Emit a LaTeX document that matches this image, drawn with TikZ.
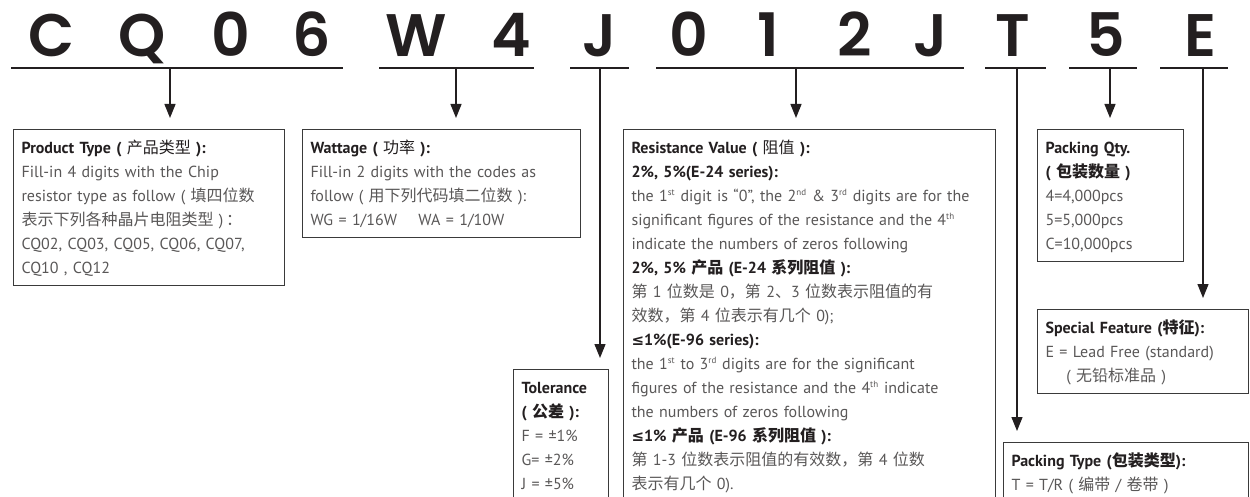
\documentclass[tikz,border=0pt]{standalone}
\usepackage{fontspec}
\setmainfont{PT Sans}
\newfontfamily\cjk{Noto Sans CJK SC}
\newfontfamily\symfont{DejaVu Sans}
\newfontfamily\codefont{Poppins}[BoldFont={Poppins SemiBold}]
\usepackage{xcolor}
\usetikzlibrary{arrows.meta, positioning, calc}

\definecolor{inkblack}{HTML}{231F20}
\definecolor{bodygray}{HTML}{595757}
\definecolor{boxgray}{HTML}{3A3A3A}

\newcommand{\hd}[1]{{\color{inkblack}\bfseries #1}}
\newcommand{\zh}[1]{{\cjk #1}}
\newcommand{\sups}[1]{\textsuperscript{\fontsize{9}{9}\selectfont #1}}
\newcommand{\leqsign}{{\symfont\fontsize{15}{24}\selectfont ≤}}
\newcommand{\boxtop}{\rule{0pt}{24pt}}
\newcommand{\boxend}{\rule[-12pt]{0pt}{12pt}}

\tikzset{
  codeletter/.style={font=\codefont\bfseries\fontsize{60}{60}\selectfont, text=inkblack, anchor=base, inner sep=0pt},
  codeline/.style={draw=inkblack, line width=1.4pt},
  pointer/.style={draw=inkblack, line width=1.3pt, -{Triangle[length=14pt,width=11pt]}, shorten >=11pt},
  infobox/.style={draw=boxgray, line width=1.1pt, anchor=north west, inner xsep=8pt, inner ysep=0pt,
    align=left, text=bodygray, font=\fontsize{16}{24}\selectfont}
}

\begin{document}
\begin{tikzpicture}[x=1pt, y=-1pt]
          \useasboundingbox (0,0) rectangle (1250,497);

          % part number
          \node[codeletter] (lc) at (52,57) {C};
          \node[codeletter] (lq) at (142,57) {Q};
          \node[codeletter] (lza) at (231,57) {0};
          \node[codeletter] (lsix) at (312,57) {6};
          \node[codeletter] (lw) at (416,57) {W};
          \node[codeletter] (lfour) at (511,57) {4};
          \node[codeletter] (lja) at (600,57) {J};
          \node[codeletter] (lzb) at (689,57) {0};
          \node[codeletter] (lone) at (768,57) {1};
          \node[codeletter] (ltwo) at (855,57) {2};
          \node[codeletter] (ljb) at (931,57) {J};
          \node[codeletter] (lt) at (1013,57) {T};
          \node[codeletter] (lfive) at (1106,57) {5};
          \node[codeletter] (le) at (1200,57) {E};

          % underlines
          \coordinate (ua) at (11,68);   \coordinate (ub) at (343,68);
          \coordinate (uc) at (379,68);  \coordinate (ud) at (534,68);
          \coordinate (ue) at (570,68);  \coordinate (uf) at (629,68);
          \coordinate (ug) at (656,68);  \coordinate (uh) at (964,68);
          \coordinate (ui) at (985,68);  \coordinate (uj) at (1046,68);
          \coordinate (uk) at (1069,68); \coordinate (ul) at (1137,68);
          \coordinate (um) at (1160,68); \coordinate (un) at (1228,68);

          \draw[codeline] (ua) -- (ub);
          \draw[codeline] (uc) -- (ud);
          \draw[codeline] (ue) -- (uf);
          \draw[codeline] (ug) -- (uh);
          \draw[codeline] (ui) -- (uj);
          \draw[codeline] (uk) -- (ul);
          \draw[codeline] (um) -- (un);

          \coordinate (ptype) at (170,68);
          \coordinate (pwatt) at (456,68);
          \coordinate (ptol) at (600,68);
          \coordinate (pres) at (796,68);
          \coordinate (ppack) at (1017,68);
          \coordinate (pqty) at (1110,68);
          \coordinate (pspec) at (1203,68);

          % boxes
          \node[infobox, text width=255pt] (prod) at (13,129) {\boxtop\hd{Product Type (} {\color{inkblack}\zh{产品类型}} \hd{):}\\
            Fill-in 4 digits with the Chip\\
            resistor type as follow ( \zh{填四位数}\\
            \zh{表示下列各种晶片电阻类型} )\,\zh{：}\\
            CQ02, CQ03, CQ05, CQ06, CQ07,\\
            CQ10 , CQ12\boxend};

          \node[infobox, text width=262pt] (watt) at (302,129) {\boxtop\hd{Wattage (} {\color{inkblack}\zh{功率}} \hd{):}\\
            Fill-in 2 digits with the codes as\\
            follow ( \zh{用下列代码填二位数} ):\\
            WG = 1/16W \quad WA = 1/10W\boxend};

          \node[infobox, text width=79pt] (tol) at (513,369) {\boxtop\hd{Tolerance}\\
            \hd{( \zh{公差} ):}\\
            F = ±1\%\\
            G= ±2\%\\
            J = ±5\%\boxend};

          \node[infobox, text width=356pt] (res) at (623,129) {\boxtop\hd{Resistance Value (} {\color{inkblack}\zh{阻值}} \hd{):}\\
            \hd{2\%, 5\%(E-24 series):}\\
            the 1\sups{st} digit is “0”, the 2\sups{nd} \& 3\sups{rd} digits are for the\\
            significant figures of the resistance and the 4\sups{th}\\
            indicate the numbers of zeros following\\
            \hd{2\%, 5\% \zh{产品} (E-24 \zh{系列阻值} ):}\\
            \zh{第} 1 \zh{位数是} 0\zh{，第} 2\zh{、}3 \zh{位数表示阻值的有}\\
            \zh{效数，第} 4 \zh{位表示有几个} 0);\\
            \hd{\leqsign1\%(E-96 series):}\\
            the 1\sups{st} to 3\sups{rd} digits are for the significant\\
            figures of the resistance and the 4\sups{th} indicate\\
            the numbers of zeros following\\
            \hd{\leqsign1\% \zh{产品} (E-96 \zh{系列阻值} ):}\\
            \zh{第} 1-3 \zh{位数表示阻值的有效数，第} 4 \zh{位数}\\
            \zh{表示有几个} 0).\boxend};

          \node[infobox, text width=130pt] (qty) at (1037,129) {\boxtop\hd{Packing Qty.}\\
            \hd{( \zh{包装数量} )}\\
            4=4,000pcs\\
            5=5,000pcs\\
            C=10,000pcs\boxend};

          \node[infobox, text width=195pt] (spec) at (1037,309) {\boxtop\hd{Special Feature (\zh{特征}):}\\
            E = Lead Free (standard)\\
            \hspace{1.3em}( \zh{无铅标准品} )\boxend};

          \node[infobox, text width=229pt] (pack) at (1003,442) {\boxtop\hd{Packing Type (\zh{包装类型}):}\\
            T = T/R ( \zh{编带} / \zh{卷带} )\boxend};

          % pointers
          \draw[pointer] (ptype) -- (ptype |- prod.north);
          \draw[pointer] (pwatt) -- (pwatt |- watt.north);
          \draw[pointer] (ptol) -- (ptol |- tol.north);
          \draw[pointer] (pres) -- (pres |- res.north);
          \draw[pointer] (ppack) -- (ppack |- pack.north);
          \draw[pointer] (pqty) -- (pqty |- qty.north);
          \draw[pointer] (pspec) -- (pspec |- spec.north);
        \end{tikzpicture}
\end{document}
